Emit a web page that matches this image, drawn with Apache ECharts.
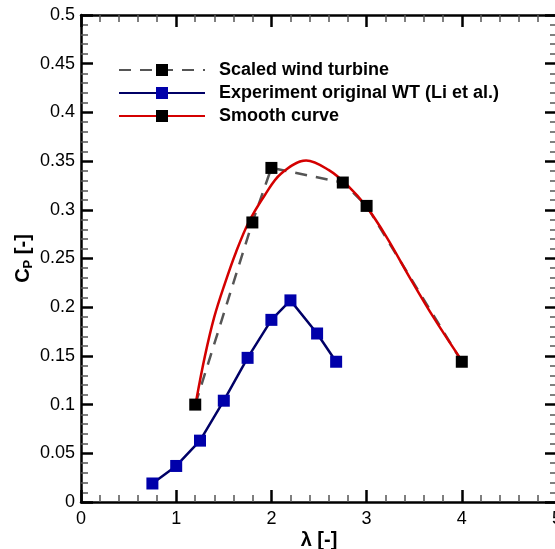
<!DOCTYPE html>
<html>
<head>
<meta charset="utf-8">
<script src="https://cdn.jsdelivr.net/npm/echarts@6/dist/echarts.min.js"></script>
<style>
  html, body { margin: 0; padding: 0; background: #fff; }
  #main { width: 555px; height: 549px; }
</style>
</head>
<body>
<div id="main"></div>
<script>
// scaled wind turbine (black squares, dashed)
var scaledLambda = [1.2, 1.8, 2.0, 2.75, 3.0, 4.0];
var scaledCp = [0.100, 0.287, 0.343, 0.328, 0.304, 0.144];

// experiment original WT (Li et al.)
var expLambda = [0.75, 1.0, 1.25, 1.5, 1.75, 2.0, 2.2, 2.48, 2.68];
var expCp = [0.019, 0.037, 0.063, 0.104, 0.148, 0.187, 0.207, 0.173, 0.144];

// smooth curve
var smoothLambda = [1.21, 1.30, 1.40, 1.51, 1.63, 1.76, 1.93, 2.10, 2.365, 2.60, 2.80, 3.00, 3.21, 3.45, 3.70, 4.00];
var smoothCp = [0.104, 0.149, 0.190, 0.224, 0.257, 0.287, 0.315, 0.337, 0.3506, 0.341, 0.325, 0.303, 0.272, 0.231, 0.190, 0.145];

function pairs(xs, ys) {
  return xs.map(function (x, i) { return [x, ys[i]]; });
}

var FONT = 'Liberation Sans';

function axisBase(extra) {
  var base = {
    type: 'value',
    axisLine: { show: true, onZero: false, lineStyle: { color: '#000', width: 2.5 } },
    axisTick: { show: true, inside: true, length: 12, lineStyle: { color: '#000', width: 2.5 } },
    minorTick: { show: true, splitNumber: 5, length: 7, lineStyle: { color: '#555', width: 1.5 } },
    splitLine: { show: false },
    minorSplitLine: { show: false },
    axisLabel: { color: '#000', fontSize: 18, fontFamily: FONT }
  };
  for (var k in extra) base[k] = extra[k];
  return base;
}

var chart = echarts.init(document.getElementById('main'));

chart.setOption({
  animation: false,
  grid: { left: 81, top: 15, width: 476, height: 487, containLabel: false, outerBoundsMode: 'none' },
  legend: {
    orient: 'vertical',
    left: 113,
    top: 56,
    itemWidth: 86,
    itemHeight: 15,
    itemGap: 5,
    data: ['Scaled wind turbine', 'Experiment original WT (Li et al.)', 'Smooth curve'],
    textStyle: { color: '#000', fontSize: 18, fontWeight: 'bold', fontFamily: FONT, padding: [0, 0, 0, 9] }
  },
  xAxis: [
    axisBase({
      min: 0, max: 5, interval: 1, position: 'bottom',
      name: 'λ [-]', nameLocation: 'middle', nameGap: 28, nameMoveOverlap: false,
      nameTextStyle: { color: '#000', fontSize: 20, fontWeight: 'bold', fontFamily: FONT },
      axisLabel: { color: '#000', fontSize: 18, fontFamily: FONT, margin: 8 }
    }),
    axisBase({
      min: 0, max: 5, interval: 1, position: 'top',
      axisLabel: { show: false }
    })
  ],
  yAxis: [
    axisBase({
      min: 0, max: 0.5, interval: 0.05, position: 'left',
      name: '{c|C}{p|P}{c| [-]}', nameLocation: 'middle', nameGap: 46, nameRotate: 90, nameMoveOverlap: false,
      nameTextStyle: {
        rich: {
          c: { color: '#000', fontSize: 20, fontWeight: 'bold', fontFamily: FONT },
          p: { color: '#000', fontSize: 13, fontWeight: 'bold', fontFamily: FONT, padding: [10, 0, 0, 0] }
        }
      },
      axisLabel: { color: '#000', fontSize: 18, fontFamily: FONT, margin: 6 }
    }),
    axisBase({
      min: 0, max: 0.5, interval: 0.05, position: 'right',
      axisLabel: { show: false }
    })
  ],
  series: [
    {
      name: 'Scaled wind turbine',
      type: 'line',
      data: pairs(scaledLambda, scaledCp),
      symbol: 'rect',
      symbolSize: 12,
      showSymbol: false,
      itemStyle: { color: '#000' },
      lineStyle: { color: '#555', width: 2.5, type: [12, 9] },
      z: 1
    },
    {
      name: 'Smooth curve',
      type: 'line',
      data: pairs(smoothLambda, smoothCp),
      smooth: 0.35,
      symbol: 'rect',
      symbolSize: 12,
      showSymbol: false,
      itemStyle: { color: '#000' },
      lineStyle: { color: '#d40000', width: 2.5 },
      z: 2
    },
    {
      name: 'scaled-markers',
      type: 'scatter',
      data: pairs(scaledLambda, scaledCp),
      symbol: 'rect',
      symbolSize: 12,
      itemStyle: { color: '#000', opacity: 1 },
      z: 3
    },
    {
      name: 'Experiment original WT (Li et al.)',
      type: 'line',
      data: pairs(expLambda, expCp),
      symbol: 'rect',
      symbolSize: 12,
      itemStyle: { color: '#0000aa' },
      lineStyle: { color: '#000066', width: 2.5 },
      z: 3
    }
  ]
});
</script>
</body>
</html>
